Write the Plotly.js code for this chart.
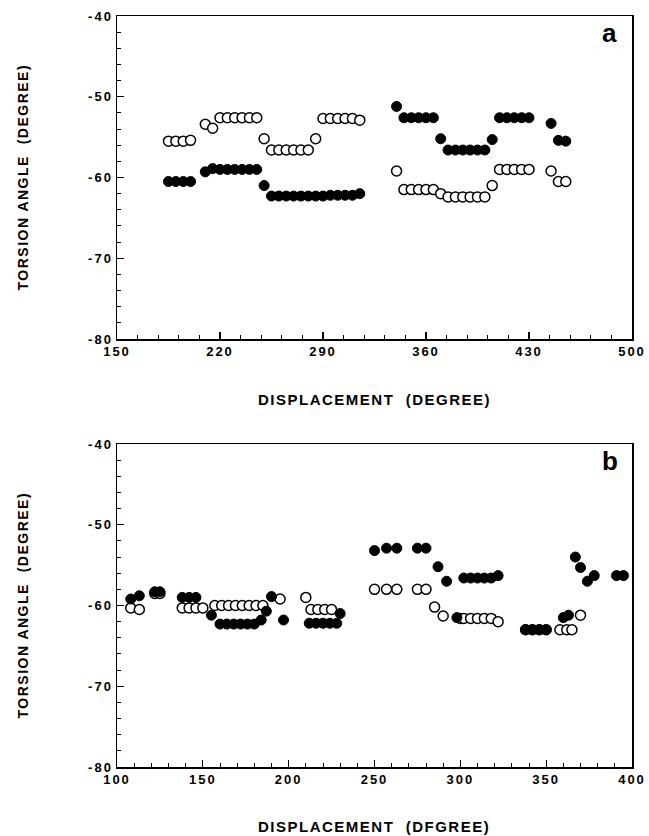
<!DOCTYPE html>
<html>
<head>
<meta charset="utf-8">
<script src="https://cdn.plot.ly/plotly-3.0.1.min.js"></script>
<style>
html,body{margin:0;padding:0;background:#fff;}
#chart{width:649px;height:836px;}
.xtick text,.ytick text,.x2tick text,.y2tick text{letter-spacing:2px;}
.annotation-text{letter-spacing:1.5px;}
</style>
</head>
<body>
<div id="chart"></div>
<script>
// ---------- Panel a data ----------
const aOpenX  = [185,190,195,200,210,215,220,225,230,235,240,245,250,255,260,265,270,275,280,285,290,295,300,305,310,315,
                 340,345,350,355,360,365,370,375,380,385,390,395,400,405,410,415,420,425,430,445,450,455];
const aOpenY  = [-55.5,-55.5,-55.5,-55.4,-53.4,-53.9,-52.6,-52.6,-52.6,-52.6,-52.6,-52.6,-55.2,-56.6,-56.6,-56.6,-56.6,-56.6,-56.6,-55.2,-52.7,-52.7,-52.7,-52.7,-52.7,-52.9,
                 -59.2,-61.5,-61.5,-61.5,-61.5,-61.5,-62.0,-62.4,-62.4,-62.4,-62.4,-62.4,-62.4,-61.0,-59.0,-59.0,-59.0,-59.0,-59.0,-59.2,-60.5,-60.5];
const aFillX  = [185,190,195,200,210,215,220,225,230,235,240,245,250,255,260,265,270,275,280,285,290,295,300,305,310,315,
                 340,345,350,355,360,365,370,375,380,385,390,395,400,405,410,415,420,425,430,445,450,455];
const aFillY  = [-60.5,-60.5,-60.5,-60.5,-59.3,-58.9,-59.0,-59.0,-59.0,-59.0,-59.0,-59.0,-61.0,-62.3,-62.3,-62.3,-62.3,-62.3,-62.3,-62.3,-62.3,-62.2,-62.2,-62.2,-62.2,-62.0,
                 -51.2,-52.6,-52.6,-52.6,-52.6,-52.6,-55.2,-56.6,-56.6,-56.6,-56.6,-56.6,-56.6,-55.3,-52.6,-52.6,-52.6,-52.6,-52.6,-53.3,-55.4,-55.5];

// ---------- Panel b data ----------
const bOpenX  = [108,113,122,125,138,142,146,150,157,161,165,169,173,177,181,185,195,
                 210,213,217,221,225,250,257,263,275,280,285,290,300,302,306,310,314,318,322,
                 338,342,346,350,358,362,365,370];
const bOpenY  = [-60.3,-60.5,-58.5,-58.5,-60.3,-60.3,-60.3,-60.3,-60.0,-60.0,-60.0,-60.0,-60.0,-60.0,-60.0,-60.0,-59.2,
                 -59.0,-60.5,-60.5,-60.5,-60.5,-58.0,-58.0,-58.0,-58.0,-58.0,-60.2,-61.3,-61.6,-61.6,-61.6,-61.6,-61.6,-61.6,-62.0,
                 -63.0,-63.0,-63.0,-63.0,-63.0,-63.0,-63.0,-61.2];
const bFillX  = [108,113,122,125,138,142,146,155,160,164,168,172,176,180,184,187,190,197,
                 212,216,220,224,228,230,250,257,263,275,280,287,292,298,302,306,310,314,318,322,
                 338,342,346,350,360,363,367,370,374,378,391,395];
const bFillY  = [-59.2,-58.8,-58.3,-58.3,-59.0,-59.0,-59.0,-61.2,-62.3,-62.3,-62.3,-62.3,-62.3,-62.3,-61.8,-60.7,-58.9,-61.8,
                 -62.2,-62.2,-62.2,-62.2,-62.2,-61.0,-53.2,-52.9,-52.9,-52.9,-52.9,-55.2,-57.0,-61.5,-56.6,-56.6,-56.6,-56.6,-56.6,-56.3,
                 -63.0,-63.0,-63.0,-63.0,-61.5,-61.2,-54.0,-55.3,-57.0,-56.3,-56.3,-56.3];

// ---------- Axis tick labels ----------
const aXTicks = [150,220,290,360,430,500];
const bXTicks = [100,150,200,250,300,350,400];
const yTicks  = [-80,-70,-60,-50,-40];
const yTitle  = "TORSION ANGLE  (DEGREE)";
const aXTitle = "DISPLACEMENT  (DEGREE)";
const bXTitle = "DISPLACEMENT  (DFGREE)";

const W = 649, H = 836;
const px = v => v / W;
const py = v => 1 - v / H;

const FONT = "Liberation Sans, Arial, sans-serif";
const tickFont = {family: FONT, size: 13, color: "#000", weight: 700};

const openMarker = {symbol: "circle", size: 10, color: "#fff", line: {color: "#000", width: 1.5}};
const fillMarker = {symbol: "circle", size: 10, color: "#000", line: {color: "#000", width: 1}};

const traces = [
  {x: aOpenX, y: aOpenY, xaxis: "x", yaxis: "y", mode: "markers", type: "scatter", marker: openMarker, showlegend: false},
  {x: aFillX, y: aFillY, xaxis: "x", yaxis: "y", mode: "markers", type: "scatter", marker: fillMarker, showlegend: false},
  {x: bOpenX, y: bOpenY, xaxis: "x2", yaxis: "y2", mode: "markers", type: "scatter", marker: openMarker, showlegend: false},
  {x: bFillX, y: bFillY, xaxis: "x2", yaxis: "y2", mode: "markers", type: "scatter", marker: fillMarker, showlegend: false}
];

const axBase = {
  showgrid: false, zeroline: false, showline: true, linecolor: "#000", linewidth: 1.5,
  mirror: true, ticks: "inside", ticklen: 7, tickwidth: 1.3, tickcolor: "#000",
  tickfont: tickFont, fixedrange: true
};

const layout = {
  width: W, height: H,
  margin: {l: 0, r: 0, t: 0, b: 0},
  paper_bgcolor: "#fff", plot_bgcolor: "#fff",
  showlegend: false,
  xaxis: Object.assign({}, axBase, {
    domain: [px(117), px(632)], range: [150, 500], anchor: "y",
    tickmode: "array", tickvals: aXTicks, ticktext: aXTicks.map(String),
    minor: {ticks: "inside", ticklen: 4, tickwidth: 1, tickcolor: "#000", dtick: 14, tick0: 150}
  }),
  yaxis: Object.assign({}, axBase, {
    domain: [py(339), py(16)], range: [-80, -40], anchor: "x",
    tickmode: "array", tickvals: yTicks, ticktext: yTicks.map(v => "-" + Math.abs(v)),
    minor: {ticks: "inside", ticklen: 4, tickwidth: 1, tickcolor: "#000", dtick: 2, tick0: -80}
  }),
  xaxis2: Object.assign({}, axBase, {
    domain: [px(117), px(632)], range: [100, 400], anchor: "y2",
    tickmode: "array", tickvals: bXTicks, ticktext: bXTicks.map(String),
    minor: {ticks: "inside", ticklen: 4, tickwidth: 1, tickcolor: "#000", dtick: 10, tick0: 100}
  }),
  yaxis2: Object.assign({}, axBase, {
    domain: [py(767), py(444)], range: [-80, -40], anchor: "x2",
    tickmode: "array", tickvals: yTicks, ticktext: yTicks.map(v => "-" + Math.abs(v)),
    minor: {ticks: "inside", ticklen: 4, tickwidth: 1, tickcolor: "#000", dtick: 2, tick0: -80}
  }),
  annotations: [
    {text: "a", xref: "paper", yref: "paper", x: px(610), y: py(33), showarrow: false,
     font: {family: FONT, size: 26, color: "#000", weight: 700}, xanchor: "center", yanchor: "middle"},
    {text: "b", xref: "paper", yref: "paper", x: px(610), y: py(461), showarrow: false,
     font: {family: FONT, size: 26, color: "#000", weight: 700}, xanchor: "center", yanchor: "middle"},
    {text: yTitle, xref: "paper", yref: "paper", x: px(22), y: py(177.5), textangle: -90, showarrow: false,
     font: {family: FONT, size: 14, color: "#000", weight: 700}, xanchor: "center", yanchor: "middle"},
    {text: yTitle, xref: "paper", yref: "paper", x: px(22), y: py(605.5), textangle: -90, showarrow: false,
     font: {family: FONT, size: 14, color: "#000", weight: 700}, xanchor: "center", yanchor: "middle"},
    {text: aXTitle, xref: "paper", yref: "paper", x: px(374), y: py(399), showarrow: false,
     font: {family: FONT, size: 15, color: "#000", weight: 700}, xanchor: "center", yanchor: "middle"},
    {text: bXTitle, xref: "paper", yref: "paper", x: px(374), y: py(826), showarrow: false,
     font: {family: FONT, size: 15, color: "#000", weight: 700}, xanchor: "center", yanchor: "middle"}
  ]
};

Plotly.newPlot("chart", traces, layout, {displayModeBar: false, staticPlot: true});
</script>
</body>
</html>
